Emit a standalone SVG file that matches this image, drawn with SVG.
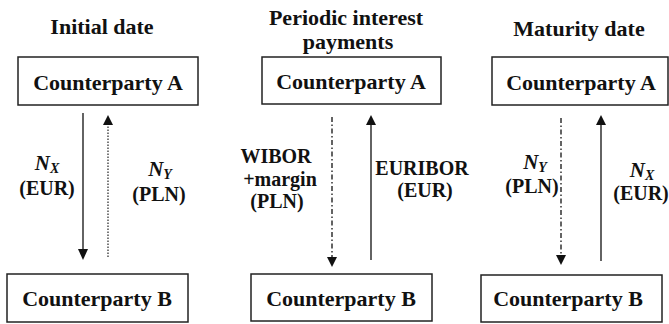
<svg xmlns="http://www.w3.org/2000/svg" width="669" height="324" viewBox="0 0 669 324" font-family="Liberation Serif, DejaVu Serif, serif">
<defs>
<style>
text{font-weight:bold;fill:#111;text-anchor:middle}
.t{font-size:22px}
.c{font-size:22px}
.l{font-size:20px}
.n{font-style:italic;font-size:21px}
.s{font-style:italic;font-size:14px}
.box{fill:#fff;stroke:#222;stroke-width:1.5}
.sol{stroke:#222;stroke-width:1.4;fill:none}
.dot{stroke:#333;stroke-width:1.3;fill:none;stroke-dasharray:1.5 1.5}
.dash{stroke:#222;stroke-width:1.4;fill:none;stroke-dasharray:5 2.5 1.5 2.5}
.hd{fill:#111}
</style>
</defs>
<rect width="669" height="324" fill="#fff"/>
<g id="titles">
<text class="t" x="102" y="34" font-family="Liberation Serif, serif">Initial date</text>
<text class="t" x="346" y="25" font-family="Liberation Serif, serif">Periodic interest</text>
<text class="t" x="348" y="49" font-family="Liberation Serif, serif">payments</text>
<text class="t" x="579" y="36" font-family="Liberation Serif, serif">Maturity date</text>
</g>
<g id="p1-A"><rect class="box" x="18" y="57" width="180" height="48"/><text class="c" x="108" y="90">Counterparty A</text></g>
<g id="p1-B"><rect class="box" x="7" y="274" width="181" height="48"/><text class="c" x="97" y="306">Counterparty B</text></g>
<g id="p2-A"><rect class="box" x="262" y="57" width="179" height="47"/><text class="c" x="351" y="89">Counterparty A</text></g>
<g id="p2-B"><rect class="box" x="251" y="274" width="181" height="47"/><text class="c" x="341" y="306">Counterparty B</text></g>
<g id="p3-A"><rect class="box" x="492" y="57" width="176" height="48"/><text class="c" x="581" y="90">Counterparty A</text></g>
<g id="p3-B"><rect class="box" x="481" y="275" width="181" height="47"/><text class="c" x="568" y="306">Counterparty B</text></g>
<g id="connectors">
<line class="sol" x1="83" y1="113" x2="83" y2="250"/><polygon class="hd" points="78,249 88,249 83,260"/>
<line class="dot" x1="108" y1="257" x2="108" y2="124"/><polygon class="hd" points="103,125 113,125 108,115"/>
<line class="dash" x1="332" y1="117" x2="332" y2="258"/><polygon class="hd" points="327,257 337,257 332,267"/>
<line class="sol" x1="371" y1="260" x2="371" y2="124"/><polygon class="hd" points="366,125 376,125 371,115"/>
<line class="dash" x1="561" y1="118" x2="561" y2="256"/><polygon class="hd" points="556,255 566,255 561,265"/>
<line class="sol" x1="601" y1="261" x2="601" y2="124"/><polygon class="hd" points="596,125 606,125 601,115"/>
</g>
<g id="labels">
<text x="47" y="170"><tspan class="n">N</tspan><tspan class="s" dy="3">X</tspan></text>
<text class="l" x="47" y="195">(EUR)</text>
<text x="160" y="176"><tspan class="n">N</tspan><tspan class="s" dy="3">Y</tspan></text>
<text class="l" x="159" y="201">(PLN)</text>
<text class="l" x="276" y="163">WIBOR</text>
<text class="l" x="280" y="186">+margin</text>
<text class="l" x="277" y="208">(PLN)</text>
<text class="l" x="422" y="175">EURIBOR</text>
<text class="l" x="425" y="197">(EUR)</text>
<text x="535" y="169"><tspan class="n">N</tspan><tspan class="s" dy="3">Y</tspan></text>
<text class="l" x="532" y="193">(PLN)</text>
<text x="642" y="177"><tspan class="n">N</tspan><tspan class="s" dy="3">X</tspan></text>
<text class="l" x="641" y="200">(EUR)</text>
</g>
</svg>
